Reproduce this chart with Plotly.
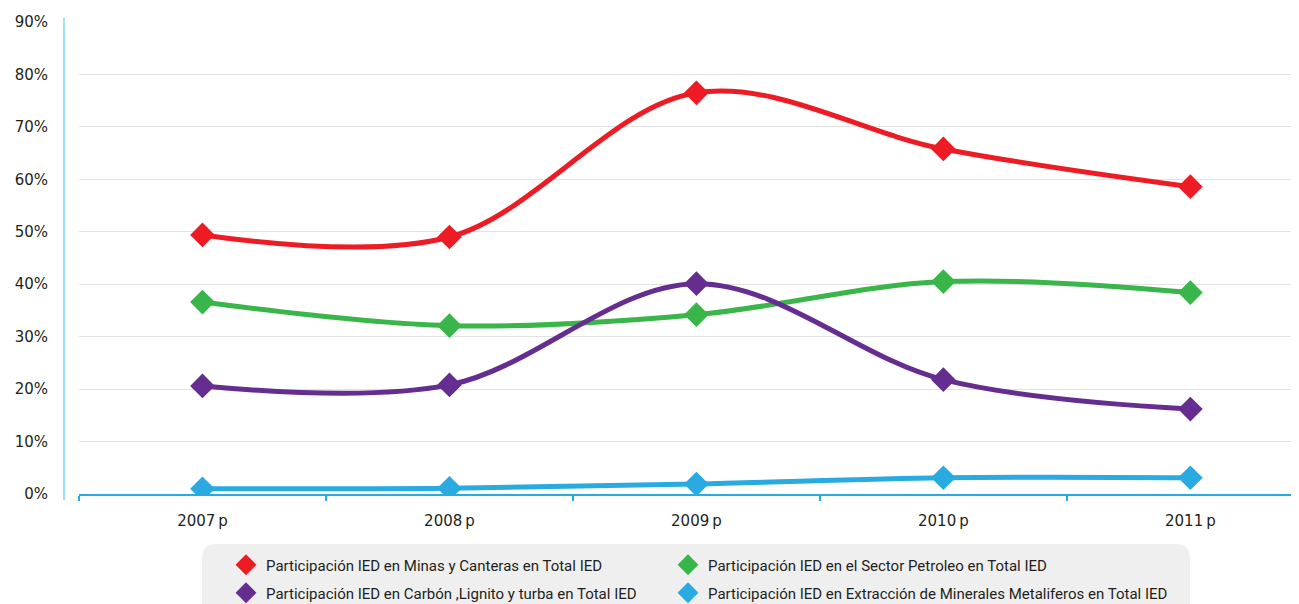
import plotly.graph_objects as go

years = ["2007\u2009p", "2008\u2009p", "2009\u2009p", "2010\u2009p", "2011\u2009p"]
minas = [0.494, 0.490, 0.765, 0.658, 0.586]
petroleo = [0.366, 0.321, 0.342, 0.405, 0.384]
carbon = [0.206, 0.208, 0.401, 0.218, 0.162]
metaliferos = [0.010, 0.011, 0.019, 0.031, 0.031]

names = [
    "Participación IED en Minas y Canteras en Total IED",
    "Participación IED en el Sector Petroleo en Total IED",
    "Participación IED en Carbón ,Lignito y turba en Total IED",
    "Participación IED en Extracción de Minerales Metaliferos en Total IED",
]
colors = ["#ed1c24", "#39b54a", "#662d91", "#29abe2"]
series = [minas, petroleo, carbon, metaliferos]
legend_ids = ["legend", "legend2", "legend3", "legend4"]

fig = go.Figure()
for n, c, s in zip(names, colors, series):
    fig.add_trace(go.Scatter(
        x=years, y=s, name=n, mode="lines+markers", showlegend=False,
        line=dict(color=c, width=5, shape="spline", smoothing=1.0),
        marker=dict(symbol="diamond", size=19, color=c),
    ))
# legend entries (diamond only)
for n, c, lg in zip(names, colors, legend_ids):
    fig.add_trace(go.Scatter(
        x=[None], y=[None], name=n, mode="markers", legend=lg,
        marker=dict(symbol="diamond", size=18, color=c),
    ))

# page body has an 8px margin; coordinates below are screenshot pixels
OFF = 8
W, H = 1299 - OFF, 604 - OFF
L, R, T, B = 79 - OFF, 0, 22 - OFF, 604 - 494
pw, ph = W - L - R, H - T - B

def px(x):
    return (x - OFF - L) / pw

def py(y):
    return (H - B - (y - OFF)) / ph

# legend rounded background
x0, x1, y0, y1 = px(202), px(1190), py(620), py(544)
r = 14
rx, ry = r / pw, r / ph
path = (f"M {x0+rx},{y1} L {x1-rx},{y1} Q {x1},{y1} {x1},{y1-ry} "
        f"L {x1},{y0+ry} Q {x1},{y0} {x1-rx},{y0} L {x0+rx},{y0} "
        f"Q {x0},{y0} {x0},{y0+ry} L {x0},{y1-ry} Q {x0},{y1} {x0+rx},{y1} Z")

legfont = dict(family="Liberation Sans Narrow, Roboto, sans-serif", size=15, color="#231f20")
common_leg = dict(orientation="h", xanchor="left", yanchor="middle",
                  bgcolor="rgba(0,0,0,0)", font=legfont, itemsizing="trace")

fig.update_layout(
    width=W, height=H,
    margin=dict(l=L, r=R, t=T, b=B, autoexpand=False),
    paper_bgcolor="white", plot_bgcolor="white",
    font=dict(family="DejaVu Sans, sans-serif", color="#231f20"),
    showlegend=True,
    legend=dict(x=px(226), y=py(565), **common_leg),
    legend2=dict(x=px(668), y=py(565), **common_leg),
    legend3=dict(x=px(226), y=py(593), **common_leg),
    legend4=dict(x=px(668), y=py(593), **common_leg),
    shapes=[
        dict(type="path", path=path, xref="paper", yref="paper",
             fillcolor="#efefef", line=dict(width=0), layer="below"),
        dict(type="line", xref="paper", yref="paper", x0=px(64), x1=px(64),
             y0=py(500), y1=py(18), line=dict(color="#7fd3f3", width=1.5)),
    ],
    xaxis=dict(
        type="category", range=[-0.5, 4.44],
        showline=True, linecolor="#29abe2", linewidth=1.5,
        ticks="outside", tickson="boundaries", ticklen=5, tickcolor="#29abe2", tickwidth=1.5,
        showgrid=False, tickfont=dict(size=15, color="#231f20"),
        ticklabelstandoff=12,
    ),
    yaxis=dict(
        range=[0, 0.9], dtick=0.1, tickformat=".0%",
        showgrid=True, gridcolor="#e2e2e2", gridwidth=1,
        zeroline=False, showline=False,
        tickfont=dict(size=15, color="#231f20"),
        ticklabelstandoff=30,
    ),
)

fig.write_html("out.html")
